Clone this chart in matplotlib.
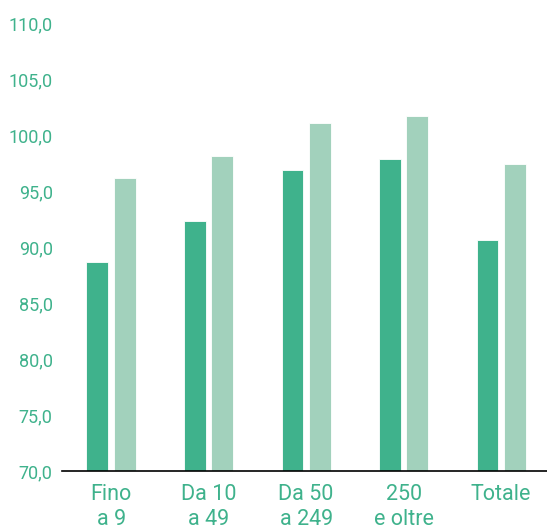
import matplotlib.pyplot as plt
import numpy as np

# Categories and values
categories = ["Fino\na 9", "Da 10\na 49", "Da 50\na 249", "250\ne oltre", "Totale"]
serie_scura = [88.7, 92.3, 96.9, 97.9, 90.6]
serie_chiara = [96.2, 98.1, 101.1, 101.7, 97.4]
y_ticks = [70, 75, 80, 85, 90, 95, 100, 105, 110]

dark = "#3FB28C"
light = "#A2D1BC"
text_col = "#3FB28C"

plt.rcParams['font.family'] = ['Roboto', 'DejaVu Sans']

fig = plt.figure(figsize=(5.47, 5.30), dpi=100)
ax = fig.add_axes([0.114, 0.1113, 0.886, 0.8453])

x = np.arange(len(categories))
w = 0.225
off = 0.14
ax.bar(x - off, serie_scura, width=w, bottom=0, color=dark, edgecolor="white", linewidth=0.6)
ax.bar(x + off, serie_chiara, width=w, bottom=0, color=light, edgecolor="white", linewidth=0.6)

ax.set_ylim(70, 110)
ax.set_xlim(-0.5, 4.47)
ax.set_yticks(y_ticks)
ax.set_yticklabels([f"{v:.1f}".replace(".", ",") for v in y_ticks], color=text_col, fontsize=13)
ax.set_xticks(x)
ax.set_xticklabels(categories, color=text_col, fontsize=15.5, linespacing=1.3)
ax.tick_params(axis="both", length=0)
ax.tick_params(axis="y", pad=7)
ax.tick_params(axis="x", pad=9)

for s in ["top", "right", "left"]:
    ax.spines[s].set_visible(False)
ax.spines["bottom"].set_color("black")
ax.spines["bottom"].set_linewidth(1.2)

fig.savefig("out.png", dpi=100)
